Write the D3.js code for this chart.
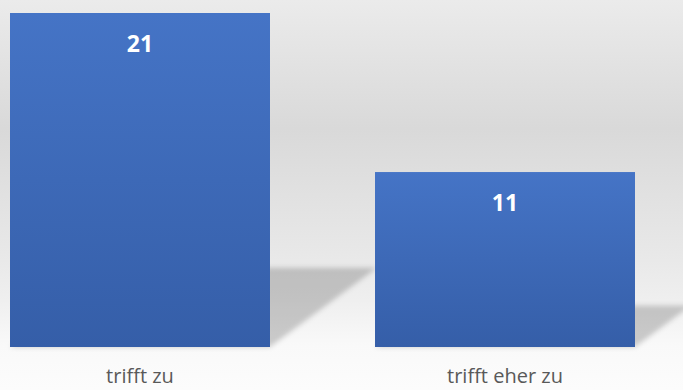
<!DOCTYPE html>
<html>
<head>
<meta charset="utf-8">
<script src="https://cdn.jsdelivr.net/npm/d3@7"></script>
<style>
  html, body { margin: 0; padding: 0; background: #fff; }
  svg { display: block; }
</style>
</head>
<body>
<svg id="chart" width="683" height="390"></svg>
<script>
// Survey answers and their counts
const categories = ["trifft zu", "trifft eher zu"];
const values = [21, 11];

const W = 683, H = 390;
const svg = d3.select("#chart");
const defs = svg.append("defs");

// Soft grey backdrop: darker in the middle, fading to near white at the floor
const bg = defs.append("linearGradient")
  .attr("id", "bgGrad").attr("x1", 0).attr("y1", 0).attr("x2", 0).attr("y2", 1);
[[0, "#ebebeb"], [0.33, "#d9d9d9"], [0.65, "#e8e8e8"], [0.77, "#efefef"],
 [0.885, "#f9f9f9"], [1, "#fcfcfc"]].forEach(([o, c]) =>
  bg.append("stop").attr("offset", o).attr("stop-color", c));

// Bar fill: lighter blue at the top, deeper blue at the base
const barGrad = defs.append("linearGradient")
  .attr("id", "barGrad").attr("x1", 0).attr("y1", 0).attr("x2", 0).attr("y2", 1);
barGrad.append("stop").attr("offset", 0).attr("stop-color", "#4574c6");
barGrad.append("stop").attr("offset", 1).attr("stop-color", "#355ea8");

// Blur for the cast shadows
defs.append("filter").attr("id", "shadowBlur")
  .attr("x", "-20%").attr("y", "-20%").attr("width", "140%").attr("height", "140%")
  .append("feGaussianBlur").attr("stdDeviation", 2.8);

svg.append("rect").attr("width", W).attr("height", H).attr("fill", "url(#bgGrad)");

const x = d3.scaleBand()
  .domain(categories)
  .range([10, 635])
  .paddingInner(0.2877)
  .paddingOuter(0);

const y = d3.scaleLinear()
  .domain([0, 21])
  .range([347, 13]);

const data = categories.map((c, i) => ({ cat: c, value: values[i] }));

// Perspective shadows cast onto the floor behind and to the right of each bar
svg.append("g").attr("filter", "url(#shadowBlur)")
  .selectAll("path")
  .data(data)
  .join("path")
  .attr("fill", "#000")
  .attr("fill-opacity", 0.19)
  .attr("d", d => {
    const x0 = x(d.cat), x1 = x0 + x.bandwidth();
    const base = y(0), h = base - y(d.value);
    const top = base - 0.237 * h, dx = 0.32 * h;
    return `M${x0},${base}L${x1},${base}L${x1 + dx},${top}L${x0 + dx},${top}Z`;
  });

// Bars
svg.append("g")
  .selectAll("rect")
  .data(data)
  .join("rect")
  .attr("x", d => x(d.cat))
  .attr("y", d => y(d.value))
  .attr("width", x.bandwidth())
  .attr("height", d => y(0) - y(d.value))
  .attr("fill", "url(#barGrad)");

// Value labels inside the top of each bar
svg.append("g")
  .selectAll("text")
  .data(data)
  .join("text")
  .attr("x", d => x(d.cat) + x.bandwidth() / 2)
  .attr("y", d => y(d.value) + 39)
  .attr("text-anchor", "middle")
  .attr("font-family", "'Open Sans', sans-serif")
  .attr("font-weight", "bold")
  .attr("font-size", 23)
  .attr("fill", "#ffffff")
  .text(d => d.value);

// Category axis labels (no axis line or ticks)
const xAxis = d3.axisBottom(x).tickSize(0).tickPadding(0);
const gx = svg.append("g")
  .attr("transform", `translate(0,${y(0)})`)
  .call(xAxis);
gx.select(".domain").remove();
gx.selectAll("text")
  .attr("y", 36)
  .attr("dy", 0)
  .attr("font-family", "'Open Sans', sans-serif")
  .attr("font-size", 20)
  .attr("fill", "#595959");
</script>
</body>
</html>
